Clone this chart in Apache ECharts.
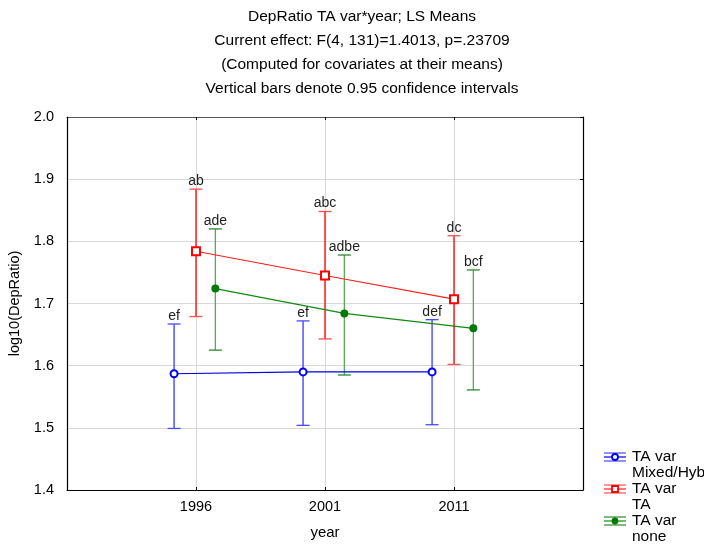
<!DOCTYPE html>
<html>
<head>
<meta charset="utf-8">
<script src="https://cdn.jsdelivr.net/npm/echarts@6/dist/echarts.min.js"></script>
<style>
  html, body { margin: 0; padding: 0; background: #fff; }
  #chart { width: 704px; height: 545px; }
</style>
</head>
<body>
<div id="chart"></div>
<script>
// Years on the x axis (placed at positions 1, 2, 3 of a 0..4 value axis)
const years = ['1996', '2001', '2011'];
const legendTitle = 'TA var';
const groupNames = ['Mixed/Hybrid', 'TA', 'none'];

// LS means and 0.95 confidence limits per TA var group
const meanMixed = [1.587, 1.590, 1.590];
const lowMixed  = [1.499, 1.504, 1.505];
const highMixed = [1.667, 1.672, 1.674];
const lettersMixed = ['ef', 'ef', 'def'];

const meanTA = [1.784, 1.745, 1.707];
const lowTA  = [1.679, 1.643, 1.602];
const highTA = [1.884, 1.848, 1.809];
const lettersTA = ['ab', 'abc', 'dc'];

const meanNone = [1.724, 1.684, 1.660];
const lowNone  = [1.625, 1.585, 1.561];
const highNone = [1.820, 1.778, 1.754];
const lettersNone = ['ade', 'adbe', 'bcf'];

// y axis range and step
const yMin = 1.4, yMax = 2.0, yStep = 0.1;

const titleLines = [
  'DepRatio TA var*year; LS Means',
  'Current effect: F(4, 131)=1.4013, p=.23709',
  '(Computed for covariates at their means)',
  'Vertical bars denote 0.95 confidence intervals'
];

const FONT = 'Liberation Sans, Arial, sans-serif';

// drawing style per group
const groups = [
  { mean: meanMixed, low: lowMixed, high: highMixed, letters: lettersMixed,
    offset: -0.17, line: '#0000dd', bar: '#3a3aff', cap: '#4a4aff',
    symbol: 'circle', size: 7, fill: '#ffffff', border: '#0000ff' },
  { mean: meanTA, low: lowTA, high: highTA, letters: lettersTA,
    offset: 0, line: '#ff2020', bar: '#ff0000', cap: '#ff5050',
    symbol: 'rect', size: 8, fill: '#ffffff', border: '#ff0000' },
  { mean: meanNone, low: lowNone, high: highNone, letters: lettersNone,
    offset: 0.15, line: '#108a10', bar: '#5aaa5a', cap: '#2a8a2a',
    symbol: 'circle', size: 6, fill: '#007a00', border: '#007a00' }
];

const series = [];
groups.forEach(function (g, gi) {
  // confidence bars with caps and letter labels
  series.push({
    type: 'custom',
    name: groupNames[gi] + ' ci',
    z: 3,
    data: g.mean.map(function (m, i) {
      return [i + 1 + g.offset, g.low[i], g.high[i], i];
    }),
    encode: { x: 0, y: [1, 2] },
    renderItem: function (params, api) {
      const x = api.value(0);
      const lo = api.coord([x, api.value(1)]);
      const hi = api.coord([x, api.value(2)]);
      const idx = api.value(3);
      const hw = 6.5;
      return {
        type: 'group',
        children: [
          { type: 'line', shape: { x1: lo[0], y1: lo[1], x2: hi[0], y2: hi[1] },
            style: { stroke: g.bar, lineWidth: 1.3 } },
          { type: 'line', shape: { x1: hi[0] - hw, y1: hi[1], x2: hi[0] + hw, y2: hi[1] },
            style: { stroke: g.cap, lineWidth: 1.3 } },
          { type: 'line', shape: { x1: lo[0] - hw, y1: lo[1], x2: lo[0] + hw, y2: lo[1] },
            style: { stroke: g.cap, lineWidth: 1.3 } },
          { type: 'text', x: hi[0], y: hi[1] - 1,
            style: { text: g.letters[idx], fill: '#222', font: '14px ' + FONT,
                     align: 'center', verticalAlign: 'bottom' } }
        ]
      };
    }
  });
  // mean line with markers
  series.push({
    type: 'line',
    name: groupNames[gi],
    z: 4,
    data: g.mean.map(function (m, i) { return [i + 1 + g.offset, m]; }),
    symbol: g.symbol,
    symbolSize: g.size,
    showAllSymbol: true,
    lineStyle: { color: g.line, width: 1.2 },
    itemStyle: { color: g.fill, borderColor: g.border, borderWidth: 2 },
    emphasis: { disabled: true },
    animation: false
  });
});

// legend drawn as error-bar glyphs with two-line labels
const legendGraphics = [];
const legendTop = [457, 489, 521];
groups.forEach(function (g, gi) {
  const cy = legendTop[gi];
  const x0 = 604, x1 = 626, xm = 615;
  legendGraphics.push(
    { type: 'line', shape: { x1: x0, y1: cy - 4, x2: x1, y2: cy - 4 }, style: { stroke: g.cap, lineWidth: 1.2 } },
    { type: 'line', shape: { x1: x0, y1: cy + 4, x2: x1, y2: cy + 4 }, style: { stroke: g.cap, lineWidth: 1.2 } },
    { type: 'line', shape: { x1: x0, y1: cy, x2: x1, y2: cy }, style: { stroke: g.line, lineWidth: 1.2 } },
    { type: 'line', shape: { x1: xm, y1: cy - 4, x2: xm, y2: cy + 4 }, style: { stroke: g.bar, lineWidth: 1.2 } },
    g.symbol === 'rect'
      ? { type: 'rect', shape: { x: xm - 3, y: cy - 3, width: 6, height: 6 },
          style: { fill: g.fill, stroke: g.border, lineWidth: 1.8 } }
      : { type: 'circle', shape: { cx: xm, cy: cy, r: g.size === 7 ? 3 : 2.5 },
          style: { fill: g.fill, stroke: g.border, lineWidth: 1.8 } },
    { type: 'text', x: 632, y: cy, style: { text: legendTitle, fill: '#000', font: '15.5px ' + FONT, verticalAlign: 'middle' } },
    { type: 'text', x: 632, y: cy + 16, style: { text: groupNames[gi], fill: '#000', font: '15.5px ' + FONT, verticalAlign: 'middle' } }
  );
});

const titleGraphics = titleLines.map(function (t, i) {
  return { type: 'text', x: 362, y: 17 + i * 24,
           style: { text: t, fill: '#000', font: '15.5px ' + FONT, align: 'center', verticalAlign: 'middle' } };
});

const chart = echarts.init(document.getElementById('chart'), null, { renderer: 'canvas' });
chart.setOption({
  animation: false,
  backgroundColor: '#ffffff',
  grid: { left: 67, right: 121, top: 117, bottom: 55, containLabel: false, outerBoundsMode: 'none' },
  xAxis: [
    {
      type: 'value', min: 0, max: years.length + 1, interval: 1,
      name: 'year', nameLocation: 'middle', nameGap: 35,
      nameTextStyle: { color: '#000', fontSize: 15, fontFamily: FONT },
      axisLine: { show: true, onZero: false, lineStyle: { color: '#000', width: 1.2 } },
      axisTick: { show: true, inside: true, length: 3, lineStyle: { color: '#000' } },
      axisLabel: {
        color: '#000', fontSize: 14.5, fontFamily: FONT, margin: 9,
        formatter: function (v) { return years[v - 1] || ''; }
      },
      splitLine: { show: true, lineStyle: { color: '#d8d8d8', width: 1 } }
    },
    {
      type: 'value', position: 'top', min: 0, max: years.length + 1, interval: 1,
      axisLine: { show: true, onZero: false, lineStyle: { color: '#555', width: 1.2 } },
      axisTick: { show: true, inside: true, length: 3, lineStyle: { color: '#000' } },
      axisLabel: { show: false }, splitLine: { show: false }
    }
  ],
  yAxis: [
    {
      type: 'value', min: yMin, max: yMax, interval: yStep,
      name: 'log10(DepRatio)', nameLocation: 'middle', nameGap: 42, nameRotate: 90,
      nameTextStyle: { color: '#000', fontSize: 14.5, fontFamily: FONT },
      axisLine: { show: true, onZero: false, lineStyle: { color: '#000', width: 1.2 } },
      axisTick: { show: false },
      axisLabel: {
        color: '#000', fontSize: 14.5, fontFamily: FONT, margin: 13,
        formatter: function (v) { return v.toFixed(1); }
      },
      splitLine: { show: true, lineStyle: { color: '#d8d8d8', width: 1 } }
    },
    {
      type: 'value', position: 'right', min: yMin, max: yMax, interval: yStep,
      axisLine: { show: true, onZero: false, lineStyle: { color: '#000', width: 1.2 } },
      axisTick: { show: true, inside: true, length: 3, lineStyle: { color: '#000' } },
      axisLabel: { show: false }, splitLine: { show: false }
    }
  ],
  series: series,
  graphic: titleGraphics.concat(legendGraphics)
});
</script>
</body>
</html>
